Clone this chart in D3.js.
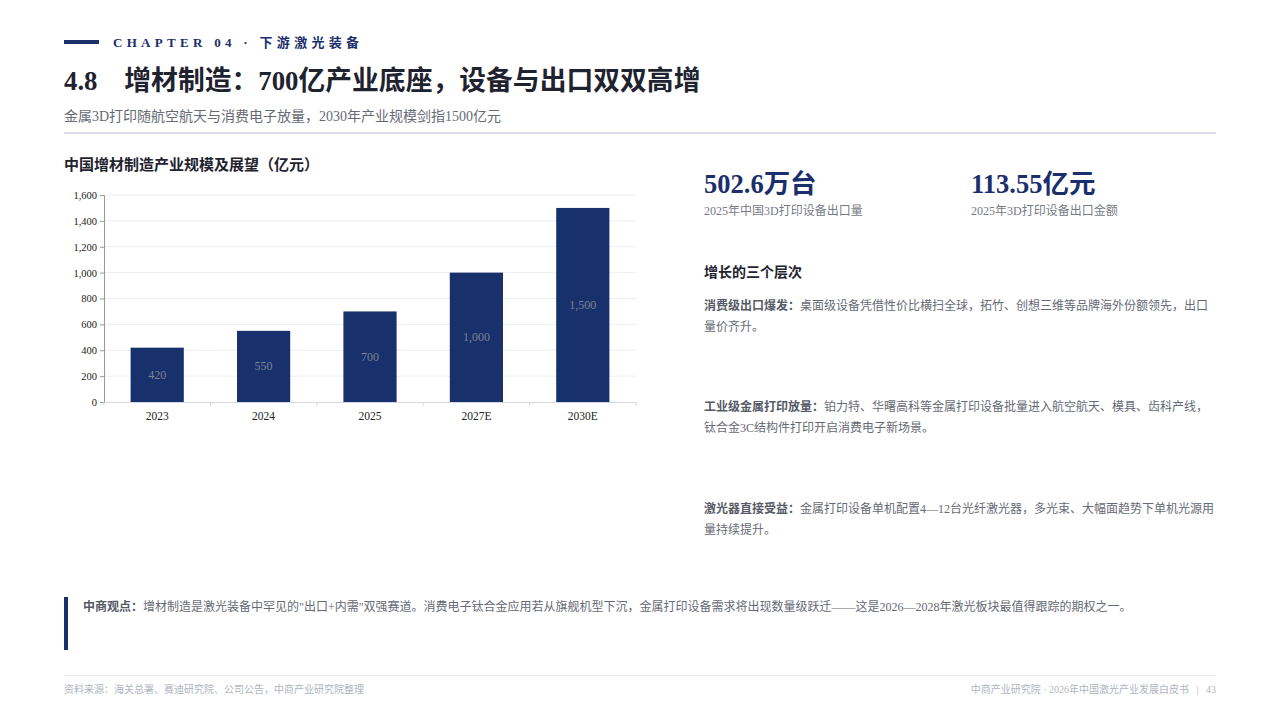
<!DOCTYPE html>
<html>
<head>
<meta charset="utf-8">
<script src="https://cdn.jsdelivr.net/npm/d3@7"></script>
<style>
  body { margin: 0; background: #fff; }
  svg { display: block; }
</style>
</head>
<body>
<script>
// chart data
var years = ["2023", "2024", "2025", "2027E", "2030E"];
var scale = [420, 550, 700, 1000, 1500];
var yTicks = [0, 200, 400, 600, 800, 1000, 1200, 1400, 1600];

// key figures
var statValues = ["502.6万台", "113.55亿元"];
var statLabels = ["2025年中国3D打印设备出口量", "2025年3D打印设备出口金额"];

// three layers of growth (lines broken as in the page)
var layerHeads = ["消费级出口爆发：", "工业级金属打印放量：", "激光器直接受益："];
var layerLines = [
    ["桌面级设备凭借性价比横扫全球，拓竹、创想三维等品牌海外份额领先，出口", "量价齐升。"],
    ["铂力特、华曙高科等金属打印设备批量进入航空航天、模具、齿科产线，", "钛合金3C结构件打印开启消费电子新场景。"],
    ["金属打印设备单机配置4—12台光纤激光器，多光束、大幅面趋势下单机光源用", "量持续提升。"]
];

var navy = "#1a2f6b";
var serif = "'Liberation Serif', 'DejaVu Serif', 'Noto Sans CJK SC', serif";

var svg = d3.select("body")
    .append("svg")
    .attr("width", 1280)
    .attr("height", 720)
    .style("font-family", serif);

//header
svg.append("rect").attr("x", 64).attr("y", 40).attr("width", 35).attr("height", 4).attr("fill", navy);
svg.append("text")
    .attr("x", 113).attr("y", 47)
    .attr("font-size", 13).attr("font-weight", "bold")
    .attr("letter-spacing", 4.3)
    .attr("fill", navy)
    .text("CHAPTER 04 · 下游激光装备");

svg.append("text")
    .attr("x", 64).attr("y", 90)
    .attr("font-size", 26.8).attr("font-weight", "bold")
    .attr("fill", "#1f2330")
    .text("4.8\u2003增材制造：700亿产业底座，设备与出口双双高增");

svg.append("text")
    .attr("x", 64).attr("y", 121)
    .attr("font-size", 14)
    .attr("fill", "#666a75")
    .text("金属3D打印随航空航天与消费电子放量，2030年产业规模剑指1500亿元");

svg.append("rect").attr("x", 64).attr("y", 132).attr("width", 1152).attr("height", 2).attr("fill", "#dcdfe8");

// bar chart
svg.append("text")
    .attr("x", 64).attr("y", 170)
    .attr("font-size", 15).attr("font-weight", "bold")
    .attr("fill", "#1f2330")
    .text("中国增材制造产业规模及展望（亿元）");

var x = d3.scaleBand().domain(years).range([104, 636]).paddingInner(0.5).paddingOuter(0.25);
var y = d3.scaleLinear().domain([0, 1600]).range([402, 195]);

var g = svg.append("g");

g.selectAll(".grid")
    .data(yTicks.slice(1))
    .enter().append("line")
    .attr("x1", 104).attr("x2", 636)
    .attr("y1", function (d) { return y(d); })
    .attr("y2", function (d) { return y(d); })
    .attr("stroke", "#eceef4");

var yAxis = g.append("g")
    .attr("transform", "translate(104,0)")
    .call(d3.axisLeft(y).tickValues(yTicks).tickSize(4).tickFormat(d3.format(",")));
yAxis.select(".domain").attr("stroke", "#999");
yAxis.selectAll(".tick line").attr("stroke", "#999");
yAxis.selectAll("text").attr("font-family", serif).attr("font-size", 10.5).attr("fill", "#222");

var xAxis = g.append("g")
    .attr("transform", "translate(0,402)")
    .call(d3.axisBottom(x).tickSize(0).tickPadding(10));
xAxis.select(".domain").attr("stroke", "#d5d8e2");
xAxis.selectAll("text").attr("font-family", serif).attr("font-size", 11.5).attr("fill", "#222");

// separators between categories
g.selectAll(".sep")
    .data(d3.range(years.length + 1))
    .enter().append("line")
    .attr("x1", function (i) { return 104 + i * x.step(); })
    .attr("x2", function (i) { return 104 + i * x.step(); })
    .attr("y1", 402).attr("y2", 406)
    .attr("stroke", "#d5d8e2");

g.selectAll(".bar")
    .data(scale)
    .enter().append("rect")
    .attr("x", function (d, i) { return x(years[i]); })
    .attr("y", function (d) { return y(d); })
    .attr("width", x.bandwidth())
    .attr("height", function (d) { return y(0) - y(d); })
    .attr("fill", "#18306b");

g.selectAll(".val")
    .data(scale)
    .enter().append("text")
    .attr("x", function (d, i) { return x(years[i]) + x.bandwidth() / 2; })
    .attr("y", function (d) { return (y(d) + y(0)) / 2 + 4; })
    .attr("text-anchor", "middle")
    .attr("font-size", 12)
    .attr("fill", "#7d8398")
    .text(d3.format(","));

// key stats
var statX = [704, 971];
statValues.forEach(function (v, i) {
    svg.append("text")
        .attr("x", statX[i]).attr("y", 193)
        .attr("font-size", 26.5).attr("font-weight", "bold")
        .attr("fill", navy)
        .text(v);
    svg.append("text")
        .attr("x", statX[i]).attr("y", 215)
        .attr("font-size", 12)
        .attr("fill", "#777b86")
        .text(statLabels[i]);
});

svg.append("text")
    .attr("x", 704).attr("y", 277)
    .attr("font-size", 14).attr("font-weight", "bold")
    .attr("fill", "#1f2330")
    .text("增长的三个层次");

var paraY = [310, 411, 513];
layerHeads.forEach(function (h, i) {
    var t = svg.append("text")
        .attr("x", 704).attr("y", paraY[i])
        .attr("font-size", 12)
        .attr("fill", "#666a75");
    t.append("tspan").attr("font-weight", "bold").attr("fill", "#555a66").text(h);
    t.append("tspan").text(layerLines[i][0]);
    svg.append("text")
        .attr("x", 704).attr("y", paraY[i] + 21)
        .attr("font-size", 12)
        .attr("fill", "#666a75")
        .text(layerLines[i][1]);
});

// view note
svg.append("rect").attr("x", 64).attr("y", 597).attr("width", 4).attr("height", 53).attr("fill", navy);
var note = svg.append("text")
    .attr("x", 83).attr("y", 611)
    .attr("font-size", 12)
    .attr("fill", "#666a75");
note.append("tspan").attr("font-weight", "bold").attr("fill", "#555a66").text("中商观点：");
note.append("tspan").text("增材制造是激光装备中罕见的\"出口+内需\"双强赛道。消费电子钛合金应用若从旗舰机型下沉，金属打印设备需求将出现数量级跃迁——这是2026—2028年激光板块最值得跟踪的期权之一。");

// footer
svg.append("rect").attr("x", 64).attr("y", 675).attr("width", 1152).attr("height", 1).attr("fill", "#e6e8ee");
svg.append("text")
    .attr("x", 64).attr("y", 693)
    .attr("font-size", 10)
    .attr("fill", "#b0b4c0")
    .text("资料来源：海关总署、赛迪研究院、公司公告，中商产业研究院整理");
svg.append("text")
    .attr("x", 1216).attr("y", 693)
    .attr("text-anchor", "end")
    .attr("font-size", 10)
    .attr("fill", "#b0b4c0")
    .attr("xml:space", "preserve")
    .text("中商产业研究院 · 2026年中国激光产业发展白皮书   |   43");
</script>
</body>
</html>
